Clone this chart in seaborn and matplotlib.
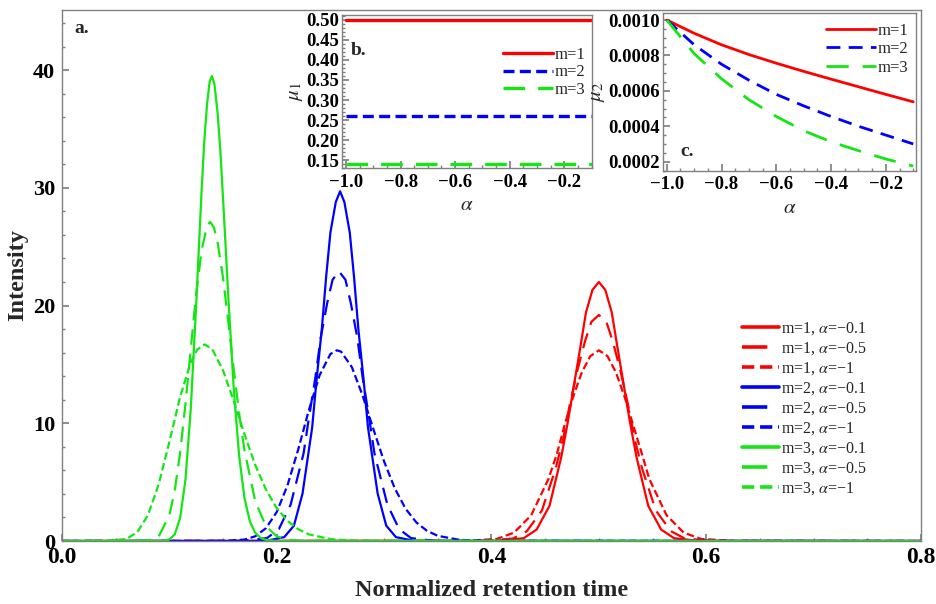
import seaborn as sns
import matplotlib.pyplot as plt
from matplotlib.ticker import MultipleLocator, FuncFormatter

# ---- main panel (a): intensity vs normalized retention time ----
t_m1_a01 = [0.0, 0.407, 0.430, 0.442, 0.454, 0.465, 0.471, 0.477, 0.483, 0.488, 0.494, 0.500,
            0.506, 0.512, 0.517, 0.523, 0.529, 0.535, 0.546, 0.558, 0.570, 0.593, 0.8]
i_m1_a01 = [0, 0.01, 0.24, 0.97, 2.98, 7.14, 10.07, 13.34, 16.61, 19.42, 21.32, 22.0,
            21.32, 19.42, 16.61, 13.34, 10.07, 7.14, 2.98, 0.97, 0.24, 0.01, 0]
t_m1_a05 = [0.0, 0.393, 0.420, 0.433, 0.447, 0.460, 0.467, 0.473, 0.480, 0.487, 0.493, 0.500,
            0.507, 0.513, 0.520, 0.527, 0.533, 0.540, 0.553, 0.567, 0.580, 0.607, 0.8]
i_m1_a05 = [0, 0.01, 0.21, 0.84, 2.60, 6.23, 8.79, 11.64, 14.49, 16.94, 18.61, 19.2,
            18.61, 16.94, 14.49, 11.64, 8.79, 6.23, 2.60, 0.84, 0.21, 0.01, 0]
t_m1_a10 = [0.0, 0.374, 0.405, 0.421, 0.437, 0.453, 0.461, 0.468, 0.476, 0.484, 0.492, 0.500,
            0.508, 0.516, 0.524, 0.532, 0.540, 0.547, 0.563, 0.579, 0.595, 0.626, 0.8]
i_m1_a10 = [0, 0.005, 0.18, 0.71, 2.19, 5.26, 7.42, 9.83, 12.23, 14.30, 15.70, 16.2,
            15.70, 14.30, 12.23, 9.83, 7.42, 5.26, 2.19, 0.71, 0.18, 0.005, 0]

t_m2_a01 = [0.0, 0.190, 0.207, 0.216, 0.224, 0.233, 0.237, 0.242, 0.246, 0.250, 0.255, 0.259,
            0.263, 0.268, 0.272, 0.276, 0.281, 0.285, 0.294, 0.302, 0.311, 0.328, 0.8]
i_m2_a01 = [0, 0.01, 0.33, 1.30, 4.02, 9.64, 13.60, 18.01, 22.42, 26.21, 28.79, 29.7,
            28.79, 26.21, 22.42, 18.01, 13.60, 9.64, 4.02, 1.30, 0.33, 0.01, 0]
t_m2_a05 = [0.0, 0.169, 0.191, 0.202, 0.213, 0.225, 0.230, 0.236, 0.241, 0.247, 0.252, 0.258,
            0.264, 0.269, 0.275, 0.280, 0.286, 0.291, 0.303, 0.314, 0.325, 0.347, 0.8]
i_m2_a05 = [0, 0.01, 0.25, 1.01, 3.10, 7.44, 10.48, 13.89, 17.28, 20.21, 22.19, 22.9,
            22.19, 20.21, 17.28, 13.89, 10.48, 7.44, 3.10, 1.01, 0.25, 0.01, 0]
t_m2_a10 = [0.0, 0.15, 0.17, 0.18, 0.19, 0.20, 0.21, 0.22, 0.23, 0.24, 0.25, 0.256, 0.26,
            0.27, 0.28, 0.29, 0.30, 0.31, 0.32, 0.33, 0.34, 0.35, 0.37, 0.39, 0.8]
i_m2_a10 = [0, 0.005, 0.12, 0.40, 1.09, 2.46, 4.72, 7.77, 11.14, 14.10, 15.88, 16.2, 16.08,
            14.76, 12.35, 9.51, 6.75, 4.46, 2.74, 1.58, 0.86, 0.44, 0.10, 0.02, 0]

t_m3_a01 = [0.0, 0.095, 0.10, 0.105, 0.11, 0.115, 0.12, 0.125, 0.13, 0.1325, 0.135, 0.1375, 0.1396,
            0.142, 0.145, 0.1475, 0.15, 0.155, 0.16, 0.165, 0.17, 0.175, 0.18, 0.185, 0.19, 0.20, 0.8]
i_m3_a01 = [0, 0.02, 0.13, 0.56, 1.93, 5.20, 11.29, 20.09, 29.7, 33.9, 37.0, 39.0, 39.5,
            38.8, 36.3, 33.1, 29.1, 20.6, 12.9, 7.22, 3.63, 1.66, 0.69, 0.26, 0.09, 0.01, 0]
t_m3_a05 = [0.0, 0.08, 0.09, 0.10, 0.105, 0.11, 0.115, 0.12, 0.125, 0.13, 0.135, 0.138, 0.1415,
            0.145, 0.15, 0.155, 0.16, 0.165, 0.17, 0.18, 0.19, 0.20, 0.21, 0.22, 0.8]
i_m3_a05 = [0, 0.03, 0.37, 2.18, 4.28, 7.46, 11.64, 16.35, 20.98, 24.66, 26.75, 27.1, 26.64,
            25.34, 22.34, 18.54, 14.56, 10.83, 7.69, 3.37, 1.25, 0.40, 0.11, 0.03, 0]
t_m3_a10 = [0.0, 0.04, 0.06, 0.07, 0.08, 0.09, 0.10, 0.11, 0.12, 0.126, 0.1329, 0.14, 0.15,
            0.16, 0.17, 0.18, 0.19, 0.20, 0.21, 0.22, 0.23, 0.25, 0.27, 0.30, 0.8]
i_m3_a10 = [0, 0.0, 0.17, 0.74, 2.18, 4.80, 8.41, 12.22, 15.2, 16.27, 16.7, 16.28, 14.49,
            11.88, 9.05, 6.46, 4.36, 2.79, 1.71, 1.00, 0.56, 0.16, 0.04, 0.0, 0]

# ---- insets (b) mean and (c) variance vs alpha ----
alpha = [-1.0, -0.9, -0.8, -0.7, -0.6, -0.5, -0.4, -0.3, -0.2, -0.1]
mu1_m1 = [0.50] * 10
mu1_m2 = [0.26] * 10
mu1_m3 = [0.14] * 10
mu2_m1 = [0.001, 0.000925, 0.000860, 0.000805, 0.000756, 0.000710, 0.000666, 0.000623, 0.000580, 0.000538]
mu2_m2 = [0.001, 0.000860, 0.000750, 0.000660, 0.000580, 0.000515, 0.000455, 0.000400, 0.000350, 0.000300]
mu2_m3 = [0.001, 0.000810, 0.000668, 0.000550, 0.000455, 0.000375, 0.000312, 0.000262, 0.000215, 0.000175]

RED, BLUE, GREEN = '#ff0000', '#0000ff', '#14e614'
SOLID = '-'
LONG = (0, (7.0, 4.0))
SHORT = (0, (3.4, 1.6))

sns.set_theme(style="ticks")
plt.rcParams['font.family'] = ['Liberation Serif', 'DejaVu Serif']
plt.rcParams['mathtext.fontset'] = 'stix'
plt.rcParams['axes.edgecolor'] = '#808080'
plt.rcParams['axes.linewidth'] = 1.0


def style_axis(ax, xsize, ysize):
    ax.tick_params(which='both', direction='in', color='#808080', labelcolor='black',
                   top=False, right=False)
    ax.tick_params(axis='x', labelsize=xsize)
    ax.tick_params(axis='y', labelsize=ysize)
    ax.tick_params(which='major', length=5)
    ax.tick_params(which='minor', length=2.5)
    for lab in ax.get_xticklabels() + ax.get_yticklabels():
        lab.set_fontweight('bold')


def minus(fmt):
    return FuncFormatter(lambda v, p: (fmt % v).replace('-', '\u2212'))


fig = plt.figure(figsize=(9.36, 6.04), dpi=100)
ax = fig.add_axes([0.0662, 0.1043, 0.9178, 0.8791])

curves = [
    (t_m1_a01, i_m1_a01, RED, SOLID, 'm=1, $\\alpha$=\u22120.1'),
    (t_m1_a05, i_m1_a05, RED, LONG, 'm=1, $\\alpha$=\u22120.5'),
    (t_m1_a10, i_m1_a10, RED, SHORT, 'm=1, $\\alpha$=\u22121'),
    (t_m2_a01, i_m2_a01, BLUE, SOLID, 'm=2, $\\alpha$=\u22120.1'),
    (t_m2_a05, i_m2_a05, BLUE, LONG, 'm=2, $\\alpha$=\u22120.5'),
    (t_m2_a10, i_m2_a10, BLUE, SHORT, 'm=2, $\\alpha$=\u22121'),
    (t_m3_a01, i_m3_a01, GREEN, SOLID, 'm=3, $\\alpha$=\u22120.1'),
    (t_m3_a05, i_m3_a05, GREEN, LONG, 'm=3, $\\alpha$=\u22120.5'),
    (t_m3_a10, i_m3_a10, GREEN, SHORT, 'm=3, $\\alpha$=\u22121'),
]
for t, inten, col, ls, lab in curves:
    sns.lineplot(x=t, y=inten, ax=ax, color=col, linestyle=ls, linewidth=1.6,
                 label=lab, estimator=None, sort=False)

ax.set_xlim(0, 0.8)
ax.set_ylim(0, 45.1)
ax.xaxis.set_major_locator(MultipleLocator(0.2))
ax.xaxis.set_minor_locator(MultipleLocator(0.05))
ax.yaxis.set_major_locator(MultipleLocator(10))
ax.yaxis.set_minor_locator(MultipleLocator(2))
ax.xaxis.set_major_formatter(minus('%.1f'))
ax.yaxis.set_major_formatter(minus('%d'))
style_axis(ax, 17, 16)
ax.tick_params(axis='x', pad=4)
ax.tick_params(axis='y', pad=5)
ax.set_xlabel('Normalized retention time', fontsize=17.5, fontweight='bold', labelpad=9)
ax.set_ylabel('Intensity', fontsize=17.5, fontweight='bold', labelpad=3)
ax.text(0.015, 0.966, 'a.', transform=ax.transAxes, fontsize=14, fontweight='bold',
        ha='left', va='center')

leg = ax.legend(loc='upper left', bbox_to_anchor=(0.792, 0.415), frameon=False,
                fontsize=11.5, handlelength=2.3, handletextpad=0.15, labelspacing=0.2,
                borderaxespad=0, borderpad=0)
for ln in leg.get_lines():
    ln.set_linewidth(2.6)

# ---- inset b ----
axb = fig.add_axes([0.365, 0.7214, 0.267, 0.254])
sns.lineplot(x=alpha, y=mu1_m1, ax=axb, color=RED, linestyle=SOLID, linewidth=2.4, label='m=1')
sns.lineplot(x=alpha, y=mu1_m2, ax=axb, color=BLUE, linestyle=(0, (3.3, 1.6)), linewidth=2.4, label='m=2')
sns.lineplot(x=alpha, y=mu1_m3, ax=axb, color=GREEN, linestyle=(0, (6.5, 3.9)), linewidth=2.4, label='m=3')
axb.set_xlim(-1.016, -0.1)
axb.set_ylim(0.13, 0.512)
axb.xaxis.set_major_locator(MultipleLocator(0.2))
axb.xaxis.set_minor_locator(MultipleLocator(0.05))
axb.yaxis.set_major_locator(MultipleLocator(0.05))
axb.yaxis.set_minor_locator(MultipleLocator(0.01))
axb.xaxis.set_major_formatter(minus('%.1f'))
axb.yaxis.set_major_formatter(minus('%.2f'))
style_axis(axb, 13.5, 13.5)
axb.tick_params(axis='x', pad=4)
axb.tick_params(axis='y', pad=2)
axb.set_xlabel('$\\alpha$', fontsize=15, labelpad=4)
axb.set_ylabel('$\\mu_1$', fontsize=15, labelpad=1)
axb.text(0.035, 0.77, 'b.', transform=axb.transAxes, fontsize=14, fontweight='bold',
         ha='left', va='center')
axb.legend(loc='upper right', bbox_to_anchor=(0.975, 0.79), frameon=False, fontsize=12,
           handlelength=3.0, handletextpad=0.1, labelspacing=0.08, borderaxespad=0, borderpad=0)

# ---- inset c ----
axc = fig.add_axes([0.708, 0.7174, 0.2706, 0.2606])
sns.lineplot(x=alpha, y=mu2_m1, ax=axc, color=RED, linestyle=SOLID, linewidth=2.0, label='m=1')
sns.lineplot(x=alpha, y=mu2_m2, ax=axc, color=BLUE, linestyle=(0, (5.0, 3.0)), linewidth=2.0, label='m=2')
sns.lineplot(x=alpha, y=mu2_m3, ax=axc, color=GREEN, linestyle=(0, (8.0, 5.0)), linewidth=2.0, label='m=3')
axc.set_xlim(-1.015, -0.09)
axc.set_ylim(0.000149, 0.001038)
axc.xaxis.set_major_locator(MultipleLocator(0.2))
axc.xaxis.set_minor_locator(MultipleLocator(0.05))
axc.yaxis.set_major_locator(MultipleLocator(0.0002))
axc.yaxis.set_minor_locator(MultipleLocator(0.00005))
axc.xaxis.set_major_formatter(minus('%.1f'))
axc.yaxis.set_major_formatter(minus('%.4f'))
style_axis(axc, 13.5, 13.5)
axc.tick_params(axis='x', pad=4)
axc.tick_params(axis='y', pad=2)
axc.set_xlabel('$\\alpha$', fontsize=15, labelpad=4)
axc.set_ylabel('$\\mu_2$', fontsize=15, labelpad=1)
axc.text(0.07, 0.12, 'c.', transform=axc.transAxes, fontsize=14, fontweight='bold',
         ha='left', va='center')
axc.legend(loc='upper right', bbox_to_anchor=(0.97, 0.94), frameon=False, fontsize=12,
           handlelength=3.0, handletextpad=0.1, labelspacing=0.15, borderaxespad=0, borderpad=0)

fig.savefig('out.png', dpi=100)
